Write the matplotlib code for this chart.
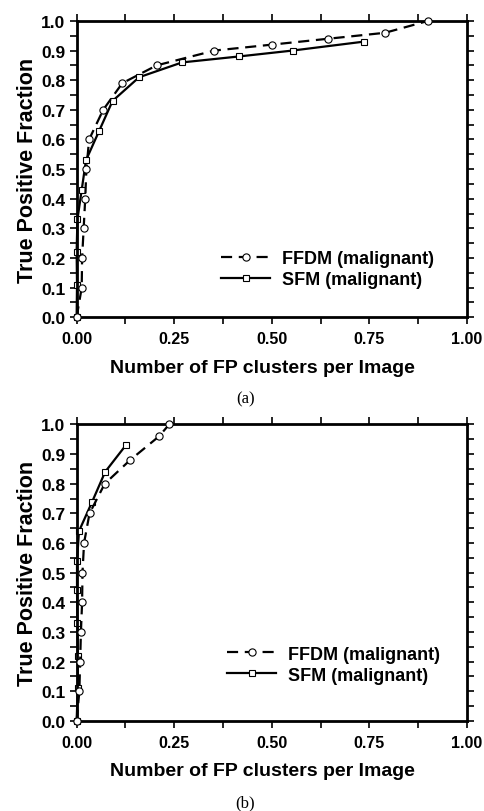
import numpy as np
import matplotlib
matplotlib.use("Agg")
import matplotlib.pyplot as plt
from matplotlib.ticker import MultipleLocator, FormatStrFormatter

# --- data ---
ffdm_a_x = [0.0, 0.013, 0.014, 0.018, 0.022, 0.025, 0.032, 0.068, 0.117, 0.205, 0.353, 0.50, 0.645, 0.79, 0.90]
ffdm_a_y = [0.0, 0.10, 0.20, 0.30, 0.40, 0.50, 0.60, 0.70, 0.79, 0.85, 0.90, 0.92, 0.94, 0.96, 1.00]
sfm_a_x = [0.0, 0.001, 0.0, 0.002, 0.013, 0.024, 0.058, 0.092, 0.16, 0.27, 0.415, 0.553, 0.735]
sfm_a_y = [0.0, 0.11, 0.22, 0.33, 0.43, 0.53, 0.63, 0.73, 0.81, 0.86, 0.88, 0.90, 0.93]

ffdm_b_x = [0.0, 0.007, 0.009, 0.011, 0.014, 0.015, 0.019, 0.033, 0.072, 0.137, 0.211, 0.237]
ffdm_b_y = [0.0, 0.10, 0.20, 0.30, 0.40, 0.50, 0.60, 0.70, 0.80, 0.88, 0.96, 1.00]
sfm_b_x = [0.0, 0.003, 0.003, 0.002, 0.001, 0.001, 0.006, 0.040, 0.073, 0.126]
sfm_b_y = [0.0, 0.11, 0.22, 0.33, 0.44, 0.54, 0.64, 0.74, 0.84, 0.93]

xticks = [0.0, 0.25, 0.50, 0.75, 1.00]
panel_labels = ["(a)", "(b)"]

plt.rcParams['font.family'] = ['Liberation Sans', 'DejaVu Sans']

fig = plt.figure(figsize=(4.85, 8.12), dpi=100)
ax_a = fig.add_axes([0.158, 0.608, 0.805, 0.365])
ax_b = fig.add_axes([0.158, 0.111, 0.805, 0.365])


def draw_panel(ax, fx, fy, sx, sy, label, leg_anchor):
    ax.plot(fx, fy, color="black", linestyle=(0, (5, 3)), linewidth=1.6,
            marker="o", markersize=5.2, markerfacecolor="white",
            markeredgecolor="black", markeredgewidth=0.8,
            label="FFDM (malignant)", zorder=3, clip_on=False)
    ax.plot(sx, sy, color="black", linestyle="-", linewidth=1.6,
            marker="s", markersize=4.6, markerfacecolor="white",
            markeredgecolor="black", markeredgewidth=0.8,
            label="SFM (malignant)", zorder=2, clip_on=False)

    ax.set_xlim(0, 1)
    ax.set_ylim(0, 1)
    ax.set_xticks(xticks)
    ax.xaxis.set_major_formatter(FormatStrFormatter("%.2f"))
    ax.xaxis.set_minor_locator(MultipleLocator(0.125))
    ax.yaxis.set_major_locator(MultipleLocator(0.1))
    ax.yaxis.set_major_formatter(FormatStrFormatter("%.1f"))
    ax.yaxis.set_minor_locator(MultipleLocator(0.05))

    for s in ax.spines.values():
        s.set_linewidth(2)
    ax.tick_params(which="both", direction="out", top=True, right=True,
                   width=1.2, length=5)
    ax.tick_params(axis="x", labelsize=11.5, pad=5)
    ax.tick_params(axis="y", labelsize=12.5, pad=3)
    for t in ax.get_xticklabels() + ax.get_yticklabels():
        t.set_fontweight("bold")

    ax.set_xlabel("Number of FP clusters per Image", fontsize=14,
                  fontweight="bold")
    ax.xaxis.set_label_coords(0.476, -0.14)
    ax.set_ylabel("True Positive Fraction", fontsize=15.5,
                  fontweight="bold")
    ax.yaxis.set_label_coords(-0.10, 0.5)

    ax.legend(loc="center left", bbox_to_anchor=leg_anchor,
              frameon=False, borderpad=0, handlelength=2.7,
              handletextpad=0.65, labelspacing=0.22,
              prop={"weight": "bold", "size": 13})
    ax.text(0.432, -0.274, label, transform=ax.transAxes, ha="center",
            va="center", fontsize=12, family="Liberation Serif")


draw_panel(ax_a, ffdm_a_x, ffdm_a_y, sfm_a_x, sfm_a_y, panel_labels[0], (0.347, 0.1625))
draw_panel(ax_b, ffdm_b_x, ffdm_b_y, sfm_b_x, sfm_b_y, panel_labels[1], (0.363, 0.19))

fig.savefig("out.png", dpi=100)
